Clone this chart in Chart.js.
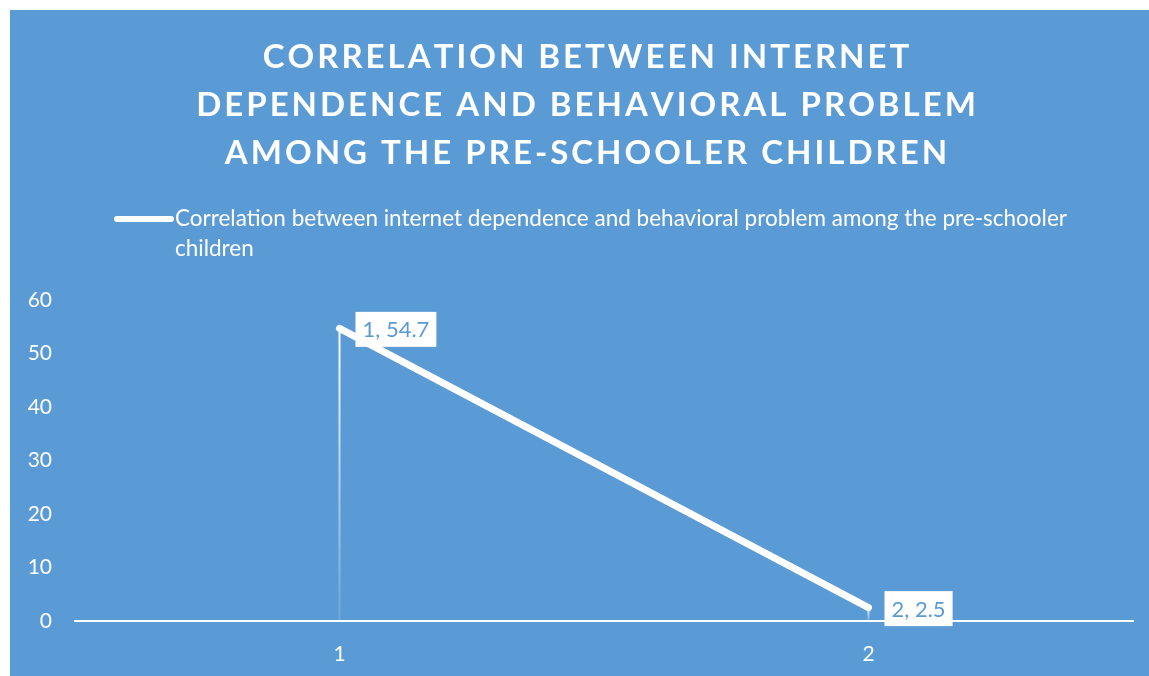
<!DOCTYPE html>
<html lang="en">
<head>
    <meta charset="UTF-8">
    <title>Correlation chart</title>
    <style>
        body {
            margin: 0;
            background-color: #fff;
        }
        #chart-box {
            position: absolute;
            left: 10px;
            top: 10px;
            width: 1139px;
            height: 666px;
            background-color: #5b9bd5;
        }
    </style>
</head>
<body>
    <div id="chart-box">
        <canvas id="chart"></canvas>
    </div>

    <script src="https://cdn.jsdelivr.net/npm/chart.js"></script>

    <script>
        const titleLines = [
            "CORRELATION BETWEEN INTERNET",
            "DEPENDENCE AND BEHAVIORAL PROBLEM",
            "AMONG THE PRE-SCHOOLER CHILDREN"
        ];
        const seriesName = "Correlation between internet dependence and behavioral problem among the pre-schooler children";
        const legendLines = [
            "Correlation between internet dependence and behavioral problem among the pre-schooler",
            "children"
        ];
        const categories = ["1", "2"];
        const values = [54.7, 2.5];
        const yTicks = [0, 10, 20, 30, 40, 50, 60];

        const blue = '#5b9bd5';
        const font = 'Lato, "Open Sans", sans-serif';

        // title + legend drawn by hand (letter spacing, wrapped legend)
        const headerPlugin = {
            id: 'header',
            afterDraw(chart) {
                const ctx = chart.ctx;
                ctx.save();
                ctx.fillStyle = '#fff';
                ctx.textBaseline = 'middle';
                ctx.font = 'bold 33px ' + font;
                const spacing = 3;
                titleLines.forEach((line, i) => {
                    let w = 0;
                    for (const ch of line) w += ctx.measureText(ch).width + spacing;
                    w -= spacing;
                    let x = 576 - w / 2;
                    const y = 47 + i * 48;
                    ctx.textAlign = 'left';
                    for (const ch of line) {
                        ctx.fillText(ch, x, y);
                        x += ctx.measureText(ch).width + spacing;
                    }
                });

                // legend
                ctx.strokeStyle = '#fff';
                ctx.lineWidth = 6;
                ctx.lineCap = 'round';
                ctx.beginPath();
                ctx.moveTo(107, 209);
                ctx.lineTo(161, 209);
                ctx.stroke();
                ctx.font = '22.5px ' + font;
                ctx.textAlign = 'left';
                legendLines.forEach((line, i) => {
                    ctx.fillText(line, 165, 209 + i * 30);
                });
                ctx.restore();
            }
        };

        // drop lines from each point to the axis
        const dropLinePlugin = {
            id: 'dropLines',
            beforeDatasetsDraw(chart) {
                const ctx = chart.ctx;
                const meta = chart.getDatasetMeta(0);
                const bottom = chart.scales.y.getPixelForValue(0);
                ctx.save();
                meta.data.forEach(pt => {
                    const grad = ctx.createLinearGradient(0, pt.y, 0, bottom);
                    grad.addColorStop(0, 'rgba(255,255,255,1)');
                    grad.addColorStop(1, 'rgba(255,255,255,0.1)');
                    ctx.strokeStyle = grad;
                    ctx.lineWidth = 2;
                    ctx.beginPath();
                    ctx.moveTo(pt.x, pt.y);
                    ctx.lineTo(pt.x, bottom);
                    ctx.stroke();
                });
                ctx.restore();
            }
        };

        // white boxed data labels "x, y"
        const labelPlugin = {
            id: 'pointLabels',
            afterDatasetsDraw(chart) {
                const ctx = chart.ctx;
                const meta = chart.getDatasetMeta(0);
                ctx.save();
                ctx.font = '22px ' + font;
                ctx.textBaseline = 'middle';
                ctx.textAlign = 'left';
                meta.data.forEach((pt, i) => {
                    const text = categories[i] + ', ' + values[i];
                    const w = ctx.measureText(text).width + 14;
                    const h = 35;
                    const x = pt.x + 16;
                    const y = pt.y - h / 2 + 1;
                    ctx.fillStyle = '#fff';
                    ctx.fillRect(x, y, w, h);
                    ctx.fillStyle = blue;
                    ctx.fillText(text, x + 7, y + h / 2 + 1);
                });
                ctx.restore();
            }
        };

        const ctx = document.getElementById('chart').getContext('2d');
        new Chart(ctx, {
            type: 'line',
            data: {
                labels: categories,
                datasets: [{
                    label: seriesName,
                    data: values,
                    borderColor: '#fff',
                    borderWidth: 7,
                    borderCapStyle: 'round',
                    pointRadius: 0,
                    tension: 0
                }]
            },
            options: {
                responsive: true,
                maintainAspectRatio: false,
                animation: false,
                layout: {
                    padding: { top: 290, right: 16, bottom: 0, left: 0 }
                },
                plugins: {
                    legend: { display: false },
                    title: { display: false },
                    tooltip: { enabled: false }
                },
                scales: {
                    x: {
                        type: 'category',
                        offset: true,
                        grid: { display: false, drawTicks: false },
                        border: { display: true, color: '#fff', width: 2 },
                        ticks: {
                            color: '#fff',
                            font: { family: font, size: 21 },
                            padding: 21
                        },
                        afterFit(scale) { scale.height = 55; }
                    },
                    y: {
                        min: 0,
                        max: 60,
                        afterBuildTicks(scale) {
                            scale.ticks = yTicks.map(v => ({ value: v }));
                        },
                        grid: { display: false, drawTicks: false },
                        border: { display: false },
                        ticks: {
                            color: '#fff',
                            font: { family: font, size: 21 },
                            padding: 23
                        },
                        afterFit(scale) { scale.width = 65; }
                    }
                }
            },
            plugins: [headerPlugin, dropLinePlugin, labelPlugin]
        });
    </script>
</body>
</html>
